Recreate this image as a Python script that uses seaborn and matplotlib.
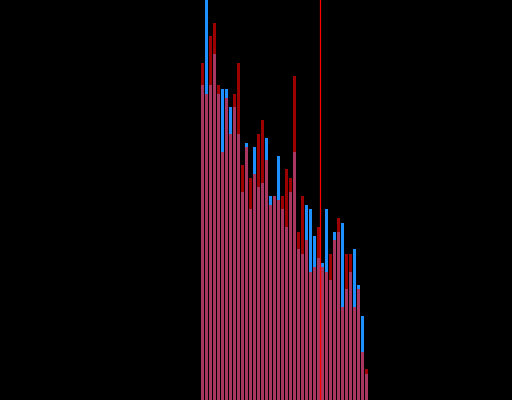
import numpy as np
import pandas as pd
import matplotlib
matplotlib.use("Agg")
import matplotlib.pyplot as plt
import seaborn as sns

# bin index of every bar (42 bins, width 1)
bins = list(range(42))

# heights of the blue series
blue_counts = [315, 405, 315, 346, 306, 311, 311, 293, 293, 266,
               208, 257, 191, 253, 213, 217, 262, 204, 204, 244,
               191, 173, 208, 248, 151, 146, 195, 191, 164, 142,
               137, 191, 120, 168, 168, 177, 111, 128, 151, 115,
               84, 26]

# heights of the red series
red_counts = [337, 306, 364, 377, 315, 248, 302, 266, 306, 337,
              235, 253, 222, 226, 266, 280, 240, 195, 204, 200,
              204, 231, 222, 324, 168, 204, 160, 128, 133, 173,
              133, 128, 146, 160, 182, 93, 146, 146, 93, 111,
              48, 31]

# position of the vertical marker
marker_x = 30.0

df = pd.DataFrame({"x": np.array(bins) + 0.5,
                   "blue": blue_counts,
                   "red": red_counts})

fig = plt.figure(figsize=(5.12, 4.0), dpi=100, facecolor="black")
ax = fig.add_axes([0, 0, 1, 1])
ax.set_facecolor("black")

# blue first (opaque), red on top with transparency
sns.histplot(data=df, x="x", weights="blue", bins=len(bins),
             binrange=(0, len(bins)), shrink=0.75,
             color="#1e90ff", alpha=1.0, linewidth=0, ax=ax)
sns.histplot(data=df, x="x", weights="red", bins=len(bins),
             binrange=(0, len(bins)), shrink=0.75,
             color="#ff0000", alpha=0.62, linewidth=0, ax=ax)

ax.axvline(marker_x, color="#ff0000", linewidth=0.9, snap=False, zorder=5)

ax.set_xlim(-50.125, 77.875)
ax.set_ylim(0, 400)
ax.axis("off")

fig.savefig("out.png", dpi=100, facecolor="black")
